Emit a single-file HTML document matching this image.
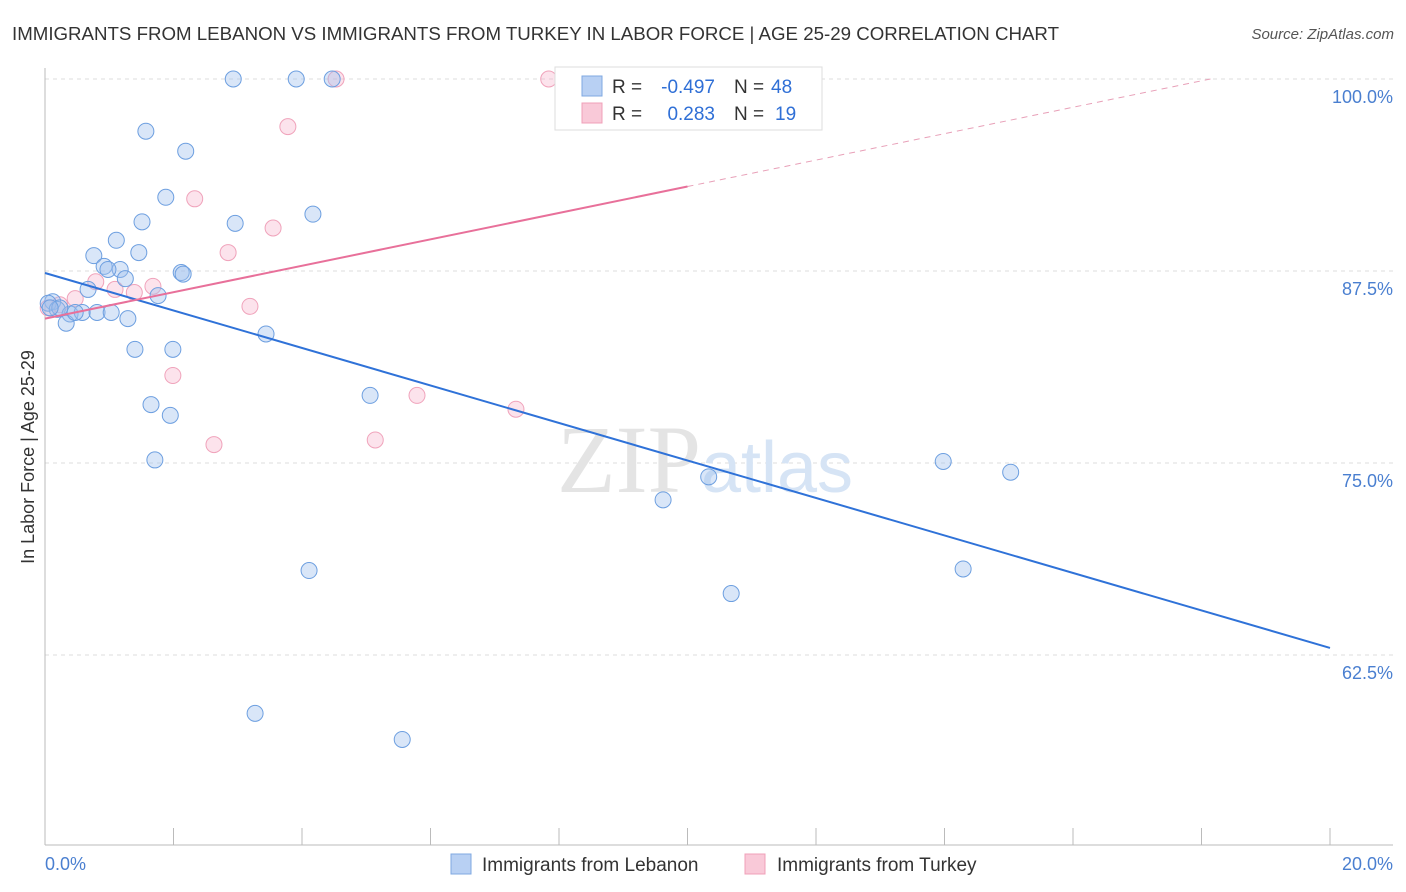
<!DOCTYPE html>
<html><head><meta charset="utf-8"><style>
body{margin:0;background:#fff;font-family:"Liberation Sans",sans-serif;}
svg{display:block}
</style></head><body>
<svg width="1406" height="892" xmlns="http://www.w3.org/2000/svg">
<text x="12" y="40" font-size="18.7" fill="#333">IMMIGRANTS FROM LEBANON VS IMMIGRANTS FROM TURKEY IN LABOR FORCE | AGE 25-29 CORRELATION CHART</text>
<text x="1394" y="39" font-size="15" fill="#555" font-style="italic" text-anchor="end">Source: ZipAtlas.com</text>
<g id="grid"></g>
<text x="705" y="492" font-size="96" fill="#e4e4e4" text-anchor="middle" font-family="Liberation Serif,serif">ZIP<tspan fill="#d6e4f5" font-family="Liberation Sans,sans-serif" font-size="72">atlas</tspan></text>
<g id="marks"></g>
<text transform="translate(34,457) rotate(-90)" font-size="18" fill="#333" text-anchor="middle">In Labor Force | Age 25-29</text>
<text x="45" y="870" font-size="18" fill="#4a7fd0">0.0%</text>
<text x="1393" y="870" font-size="18" fill="#4a7fd0" text-anchor="end">20.0%</text>
<g font-size="19">
<rect x="555" y="67" width="267" height="63" fill="#fff" stroke="#ddd"/>
<rect x="582" y="76" width="20" height="20" fill="#b8d0f3" stroke="#7fa8e2"/>
<rect x="582" y="103" width="20" height="20" fill="#f9c9d8" stroke="#f0a0b8"/>
<text x="612" y="93" fill="#333">R =</text>
<text x="715" y="93" fill="#2f6fd6" text-anchor="end">-0.497</text>
<text x="734" y="93" fill="#333">N =</text>
<text x="771" y="93" fill="#2f6fd6">48</text>
<text x="612" y="120" fill="#333">R =</text>
<text x="715" y="120" fill="#2f6fd6" text-anchor="end">0.283</text>
<text x="734" y="120" fill="#333">N =</text>
<text x="775" y="120" fill="#2f6fd6">19</text>
</g>
<g>
<rect x="451" y="854" width="20" height="20" fill="#b8d0f3" stroke="#7fa8e2"/>
<text x="482" y="871" font-size="19" fill="#333">Immigrants from Lebanon</text>
<rect x="745" y="854" width="20" height="20" fill="#f9c9d8" stroke="#f0a0b8"/>
<text x="777" y="871" font-size="19" fill="#333">Immigrants from Turkey</text>
</g>
</svg>
<script>
const yTicks=[100,87.5,75,62.5];
const yTickLabels=["100.0%","87.5%","75.0%","62.5%"];
const xTicks=[0,2,4,6,8,10,12,14,16,18,20];
const lebX=[2.93,3.91,4.47,1.57,2.19,1.88,1.51,2.96,4.17,1.11,0.76,1.46,0.92,1.17,2.12,2.15,1.25,0.67,1.76,0.12,0.05,0.19,0.39,0.58,0.81,1.03,0.33,1.29,3.44,1.40,1.99,5.06,1.65,1.95,1.71,10.33,13.98,15.03,9.62,4.11,14.29,10.68,3.27,5.56,0.23,0.08,0.47,0.98];
const lebY=[100,100,100,96.6,95.3,92.3,90.7,90.6,91.2,89.5,88.5,88.7,87.8,87.6,87.4,87.3,87.0,86.3,85.9,85.5,85.4,85.0,84.7,84.8,84.8,84.8,84.1,84.4,83.4,82.4,82.4,79.4,78.8,78.1,75.2,74.1,75.1,74.4,72.6,68.0,68.1,66.5,58.7,57.0,85.1,85.1,84.8,87.6];
const turX=[4.53,7.84,3.78,2.33,3.55,2.85,0.79,1.68,1.39,0.47,3.19,1.99,5.79,7.33,5.14,2.63,0.05,0.23,1.09];
const turY=[100,100,96.9,92.2,90.3,88.7,86.8,86.5,86.1,85.7,85.2,80.7,79.4,78.5,76.5,76.2,85.1,85.3,86.3];
const lebTrend=[87.37,62.96];
const turTrend=[84.4,93.0];
const NS="http://www.w3.org/2000/svg";
const X=v=>45+v/20*1285;
const Y=v=>79+(100-v)*15.36;
function mk(tag,attrs,parent){const e=document.createElementNS(NS,tag);for(const k in attrs)e.setAttribute(k,attrs[k]);parent.appendChild(e);return e;}
const grid=document.getElementById('grid'),marks=document.getElementById('marks');
yTicks.forEach((t,i)=>{
 const l=mk('line',{x1:45,x2:1393,y1:Y(t),y2:Y(t),stroke:'#ddd','stroke-dasharray':'4,4'},grid);
 
 
 const tx=mk('text',{x:1393,y:Y(t)+24,'font-size':18,fill:'#4a7fd0','text-anchor':'end'},grid);
 tx.textContent=yTickLabels[i];
 
 
});
const ax=mk('line',{x1:45,x2:45,y1:68,y2:845,stroke:'#bbb'},grid);


const bx=mk('line',{x1:45,x2:1393,y1:845,y2:845,stroke:'#bbb'},grid);


xTicks.forEach(t=>{
 const l=mk('line',{x1:X(t),x2:X(t),y1:828,y2:845,stroke:'#bbb'},grid);
 
 
});
turX.forEach((x,i)=>{
 const c=mk('circle',{cx:X(x),cy:Y(turY[i]),r:8,fill:'rgba(246,175,200,0.35)',stroke:'#f0a3bb','stroke-width':1},marks);
 
 
});
lebX.forEach((x,i)=>{
 const c=mk('circle',{cx:X(x),cy:Y(lebY[i]),r:8,fill:'rgba(160,192,238,0.4)',stroke:'#6d9fe0','stroke-width':1},marks);
 
 
});
const bl=mk('line',{x1:X(0),y1:Y(lebTrend[0]),x2:X(20),y2:Y(lebTrend[1]),stroke:'#2f72d8','stroke-width':2},marks);


const slope=(turTrend[1]-turTrend[0])/10;
const pl=mk('line',{x1:X(0),y1:Y(turTrend[0]),x2:X(10),y2:Y(turTrend[1]),stroke:'#e8709a','stroke-width':2},marks);


const xe=(100-turTrend[0])/slope;
const pd=mk('line',{x1:X(10),y1:Y(turTrend[1]),x2:X(xe),y2:Y(100),stroke:'#e8a0b8','stroke-width':1,'stroke-dasharray':'6,5'},marks);


</script>
</body></html>
